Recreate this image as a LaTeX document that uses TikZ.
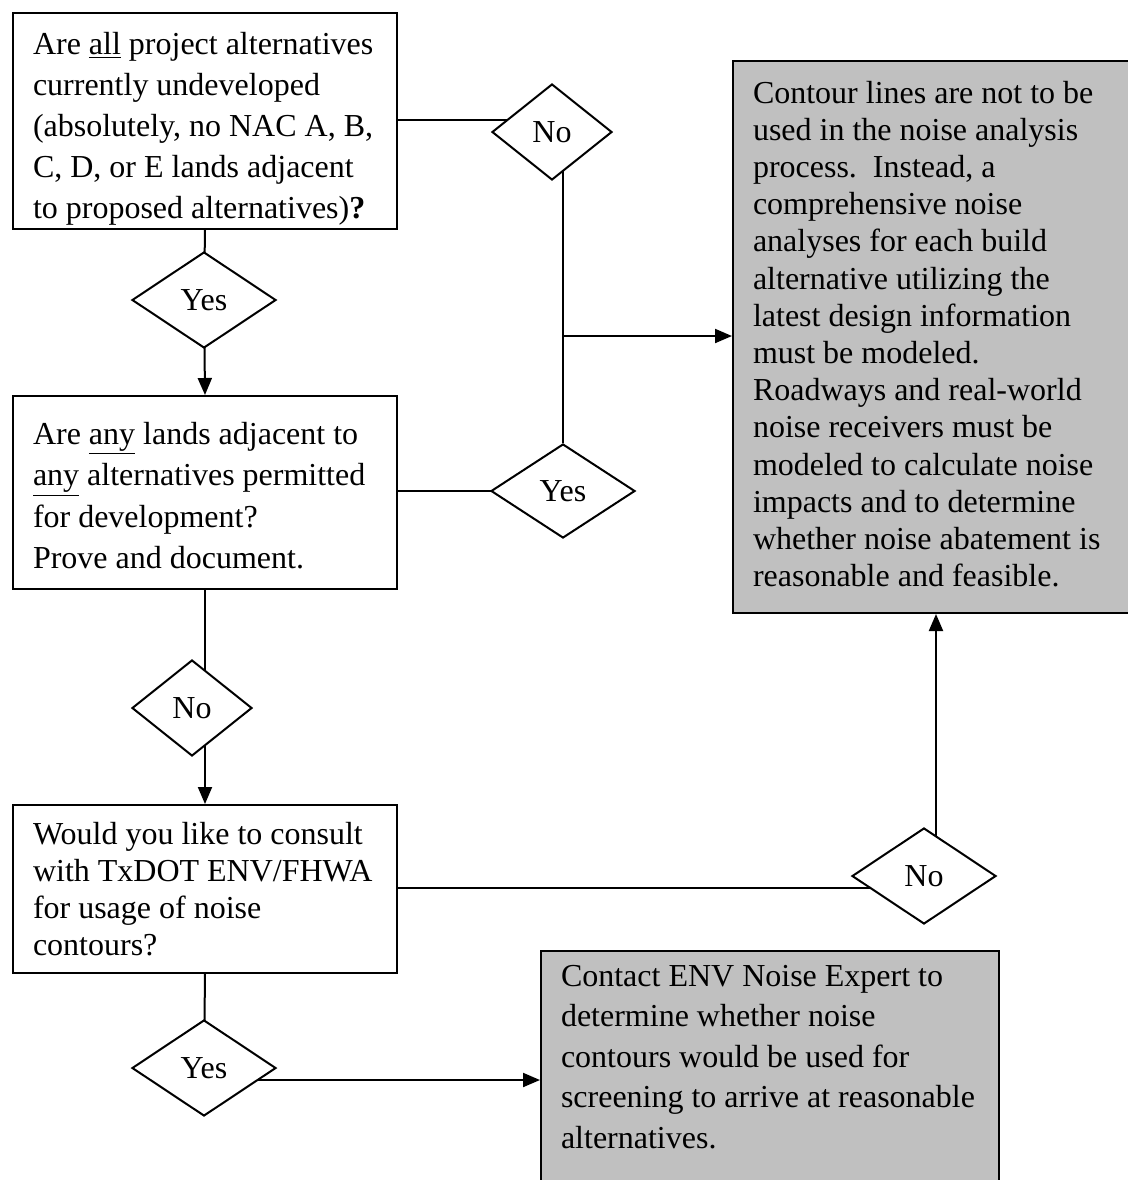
\documentclass[tikz,border=0pt]{standalone}
\usepackage{fontspec}
\setmainfont{Liberation Serif}
\usetikzlibrary{shapes.geometric,arrows.meta}
\pgfdeclarelayer{bg}
\pgfsetlayers{bg,main}
\definecolor{gbox}{HTML}{C0C0C0}
\newcommand\boxtxt[5]{\parbox[c][#2][t]{#1}{\fontsize{16pt}{#4}\selectfont\leftskip=10pt\rightskip=0pt plus 1fil\parfillskip=0pt plus 1fil\vspace*{#3}\rule{0pt}{12pt}#5\par}}
\tikzset{
  pbox/.style={draw, line width=1pt, inner sep=0pt, anchor=north west, fill=white},
  gpbox/.style={pbox, fill=gbox},
  dia/.style={diamond, draw, line width=1pt, fill=white, inner sep=0pt, font=\fontsize{16pt}{19pt}\selectfont},
  conn/.style={line width=1pt},
  arr/.style={line width=1pt, -{Triangle[length=8.5pt,width=7pt]}}
}
\begin{document}
\begin{tikzpicture}[x=0.5pt,y=-0.5pt]
\useasboundingbox (0,0) rectangle (1128,1180);
% boxes
\node[pbox] (b1) at (12,12) {\boxtxt{192pt}{108pt}{8.5pt}{20.5pt}{Are \underline{all} project alternatives\\
currently undeveloped\\
(absolutely, no NAC A, B,\\
C, D, or E lands adjacent\\
to proposed alternatives)\textbf{?}}};
\node[pbox] (b2) at (12,395) {\boxtxt{192pt}{96.5pt}{12pt}{20.8pt}{Are \underline{any} lands adjacent to\\
\underline{any} alternatives permitted\\
for development?\\
Prove and document.}};
\node[pbox] (b3) at (12,804) {\boxtxt{192pt}{84pt}{7.5pt}{18.65pt}{Would you like to consult\\
with TxDOT ENV/FHWA\\
for usage of noise\\
contours?}};
\node[gpbox] (r1) at (732,60) {\boxtxt{198pt}{276pt}{9pt}{18.6pt}{Contour lines are not to be\\
used in the noise analysis\\
process.\ \ Instead, a\\
comprehensive noise\\
analyses for each build\\
alternative utilizing the\\
latest design information\\
must be modeled.\\
Roadways and real-world\\
noise receivers must be\\
modeled to calculate noise\\
impacts and to determine\\
whether noise abatement is\\
reasonable and feasible.}};
\node[gpbox] (r2) at (540,950) {\boxtxt{229pt}{125pt}{5.5pt}{20.25pt}{Contact ENV Noise Expert to\\
determine whether noise\\
contours would be used for\\
screening to arrive at reasonable\\
alternatives.}};
% diamonds
\node[dia, minimum width=60pt, minimum height=48pt] (dNo1) at (552,132) {No};
\node[dia, minimum width=72pt, minimum height=48pt] (dYes1) at (204,300) {Yes};
\node[dia, minimum width=72pt, minimum height=47pt] (dYes2) at (563,491) {Yes};
\node[dia, minimum width=60pt, minimum height=48pt] (dNo2) at (192,708) {No};
\node[dia, minimum width=72pt, minimum height=48pt] (dNo3) at (924,876) {No};
\node[dia, minimum width=72pt, minimum height=48pt] (dYes3) at (204,1068) {Yes};
% helper coordinates
\coordinate (p1) at (552,120);
\coordinate (j1) at (563,336);
\coordinate (p3) at (924,888);
\coordinate (p4) at (936,876);
\coordinate (p5) at (204,1080);
\begin{pgfonlayer}{bg}
\draw[conn] (b1.east |- p1) -- (p1);
\draw[conn] (dNo1.center -| dYes2.north) -- (dYes2.north);
\draw[arr] (j1) -- (j1 -| r1.west);
\draw[conn] (b2.east |- dYes2.center) -- (dYes2.center);
\draw[conn] (b1.south) -- (dYes1.center);
\draw[arr] (dYes1.center) -- (b2.north);
\draw[conn] (b2.south) -- (b2.south |- dNo2.center);
\draw[arr] (b2.south |- dNo2.center) -- (b3.north);
\draw[conn] (b3.east |- p3) -- (p3);
\draw[arr] (p4) -- (p4 |- r1.south);
\draw[conn] (b3.south) -- (dYes3.center);
\draw[arr] (p5) -- (p5 -| r2.west);
\end{pgfonlayer}
\end{tikzpicture}
\end{document}
